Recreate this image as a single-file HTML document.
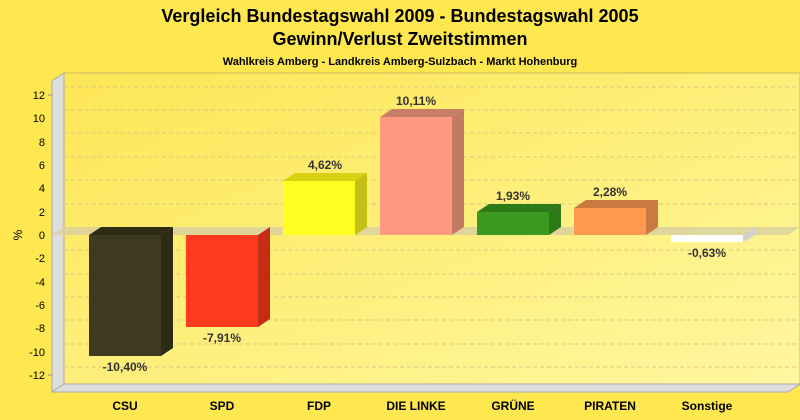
<!DOCTYPE html>
<html><head><meta charset="utf-8"><style>
html,body{margin:0;padding:0;background:#ffe84f;}
svg{display:block;font-family:"Liberation Sans",Arial,sans-serif;}
</style></head><body>
<svg width="800" height="420" viewBox="0 0 800 420" xmlns="http://www.w3.org/2000/svg">
<defs>
<linearGradient id="pg" x1="0" y1="0" x2="1" y2="1">
<stop offset="0" stop-color="#fde655"/><stop offset="1" stop-color="#fff7a0"/>
</linearGradient>
</defs>
<rect width="800" height="420" fill="#ffe84f"/>
<text x="400" y="22" text-anchor="middle" font-size="18" font-weight="bold">Vergleich Bundestagswahl 2009 - Bundestagswahl 2005</text>
<text x="400" y="45" text-anchor="middle" font-size="18" font-weight="bold">Gewinn/Verlust Zweitstimmen</text>
<text x="400" y="65" text-anchor="middle" font-size="11" font-weight="bold">Wahlkreis Amberg - Landkreis Amberg-Sulzbach - Markt Hohenburg</text>
<!-- back plane -->
<rect x="64" y="73" width="736" height="311" fill="url(#pg)" stroke="#c8b860" stroke-width="1"/>
<!-- left wall -->
<polygon points="52,81 64,73 64,384 52,392" fill="#dedede" stroke="#aaa" stroke-width="1"/>
<!-- floor -->
<polygon points="52,392 64,384 800,384 788,392" fill="#dedede" stroke="#aaa" stroke-width="1"/>
<g stroke="#d8c880" stroke-dasharray="4,3" stroke-width="1">
<line x1="64" y1="87" x2="800" y2="87"/><line x1="64" y1="110" x2="800" y2="110"/>
<line x1="64" y1="133" x2="800" y2="133"/><line x1="64" y1="157" x2="800" y2="157"/>
<line x1="64" y1="180" x2="800" y2="180"/><line x1="64" y1="204" x2="800" y2="204"/>
<line x1="64" y1="250" x2="800" y2="250"/><line x1="64" y1="274" x2="800" y2="274"/>
<line x1="64" y1="297" x2="800" y2="297"/><line x1="64" y1="320" x2="800" y2="320"/>
<line x1="64" y1="344" x2="800" y2="344"/><line x1="64" y1="367" x2="800" y2="367"/>
</g>
<!-- zero plane -->
<polygon points="52,235 64,227 800,227 788,235" fill="#d8d0a0" opacity="0.8"/>
<g font-size="11" text-anchor="end" fill="#000">
<text x="45" y="99">12</text><text x="45" y="122">10</text><text x="45" y="146">8</text>
<text x="45" y="169">6</text><text x="45" y="192">4</text><text x="45" y="216">2</text>
<text x="45" y="239">0</text><text x="45" y="262">-2</text><text x="45" y="286">-4</text>
<text x="45" y="309">-6</text><text x="45" y="332">-8</text><text x="45" y="356">-10</text>
<text x="45" y="379">-12</text>
</g>
<g stroke="#999"><line x1="48" y1="95" x2="52" y2="95"/><line x1="48" y1="375" x2="52" y2="375"/></g>
<text x="22" y="235" font-size="12" transform="rotate(-90 22 235)" text-anchor="middle">%</text>
<!-- bars: front x, width 72, depth 12/-8 -->
<!-- CSU -->
<polygon points="161,235 173,227 173,348 161,356" fill="#2e2b14"/>
<polygon points="89,235 101,227 173,227 161,235" fill="#2e2b14"/>
<rect x="89" y="235" width="72" height="121" fill="#3d3a1f"/>
<!-- SPD -->
<polygon points="258,235 270,227 270,319 258,327" fill="#c42c14"/>
<rect x="186" y="235" width="72" height="92" fill="#ff3a1f"/>
<!-- FDP -->
<polygon points="283,181 295,173 367,173 355,181" fill="#d8d010"/>
<polygon points="355,181 367,173 367,227 355,235" fill="#c4c018"/>
<rect x="283" y="181" width="72" height="54" fill="#ffff22"/>
<!-- LINKE -->
<polygon points="380,117 392,109 464,109 452,117" fill="#c87e66"/>
<polygon points="452,117 464,109 464,227 452,235" fill="#c47a62"/>
<rect x="380" y="117" width="72" height="118" fill="#ff9a80"/>
<!-- GRUENE -->
<polygon points="477,212 489,204 561,204 549,212" fill="#2e7a18"/>
<polygon points="549,212 561,204 561,227 549,235" fill="#2e7a18"/>
<rect x="477" y="212" width="72" height="23" fill="#3a9a20"/>
<!-- PIRATEN -->
<polygon points="574,208 586,200 658,200 646,208" fill="#c87a40"/>
<polygon points="646,208 658,200 658,227 646,235" fill="#c87a40"/>
<rect x="574" y="208" width="72" height="27" fill="#ff9a50"/>
<!-- Sonstige -->
<polygon points="743,235 755,227 755,235 743,242" fill="#d0d0d0"/>
<rect x="671" y="235" width="72" height="7" fill="#ffffff"/>
<g font-size="12" font-weight="bold" fill="#333" text-anchor="middle">
<text x="125" y="371">-10,40%</text>
<text x="222" y="342">-7,91%</text>
<text x="325" y="169">4,62%</text>
<text x="416" y="105">10,11%</text>
<text x="513" y="200">1,93%</text>
<text x="610" y="196">2,28%</text>
<text x="707" y="257">-0,63%</text>
</g>
<g font-size="12" font-weight="bold" fill="#000" text-anchor="middle">
<text x="125" y="410">CSU</text><text x="222" y="410">SPD</text><text x="319" y="410">FDP</text>
<text x="416" y="410">DIE LINKE</text><text x="513" y="410">GRÜNE</text><text x="610" y="410">PIRATEN</text>
<text x="707" y="410">Sonstige</text>
</g>
</svg>
</body></html>
